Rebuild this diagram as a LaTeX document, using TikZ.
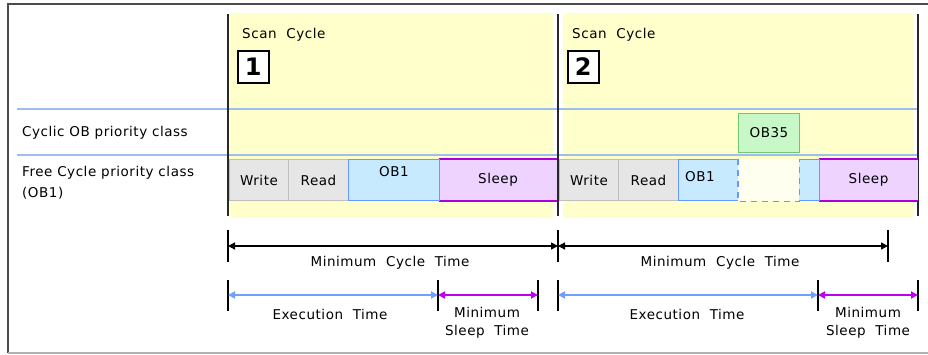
\documentclass[tikz,border=0pt]{standalone}
\usepackage{fontspec}
\newfontfamily\pix[LetterSpace=4]{DejaVu Sans}
\usetikzlibrary{arrows.meta}
\definecolor{panel}{RGB}{255,255,204}
\definecolor{rowline}{RGB}{160,190,235}
\definecolor{vline}{RGB}{40,40,40}
\definecolor{grayfill}{RGB}{230,230,230}
\definecolor{graydraw}{RGB}{190,190,190}
\definecolor{obfill}{RGB}{200,234,255}
\definecolor{obdraw}{RGB}{102,153,255}
\definecolor{slfill}{RGB}{238,210,255}
\definecolor{sldraw}{RGB}{170,0,221}
\definecolor{gapfill}{RGB}{255,255,240}
\definecolor{grfill}{RGB}{200,248,200}
\definecolor{grdraw}{RGB}{110,200,110}
\definecolor{execcol}{RGB}{110,160,255}
\definecolor{sleepcol}{RGB}{190,0,240}
\begin{document}
\begin{tikzpicture}[x=1pt,y=-1pt,
  txt/.style={font=\pix\fontsize{13.5}{15}\selectfont, inner sep=0pt, text=black},
  blk/.style={txt, anchor=north west, minimum height=41pt, line width=1pt},
  graybox/.style={blk, fill=grayfill, draw=graydraw},
  obbox/.style={blk, fill=obfill, draw=obdraw},
  sleepbox/.style={blk, fill=slfill},
  numbox/.style={anchor=north west, minimum width=31pt, minimum height=32pt, inner sep=0pt,
     fill=white, draw=black, line width=1.6pt, font=\pix\fontsize{24}{24}\selectfont\bfseries},
  vrule/.style={draw=vline, line width=2pt},
  tick/.style={draw=black, line width=1.5pt},
  dimblack/.style={draw=black, line width=1.4pt, {Triangle[length=7pt,width=7pt]}-{Triangle[length=7pt,width=7pt]}},
  dimexec/.style={draw=execcol, line width=1.8pt, {Triangle[length=7pt,width=7pt]}-{Triangle[length=7pt,width=7pt]}},
  dimsleep/.style={draw=sleepcol, line width=1.8pt, {Triangle[length=7pt,width=7pt]}-{Triangle[length=7pt,width=7pt]}},
]
\useasboundingbox (0,0) rectangle (928,355);
% frame
\draw[draw=black!70, line width=2pt] (8,353) -- (8,4) -- (928,4);
\draw[draw=black!30, line width=1.2pt] (8,353) -- (928,353);
% yellow panels
\fill[panel, rounded corners=2pt] (230,13) rectangle (553,218);
\fill[panel, rounded corners=2pt] (563,13) rectangle (913,218);
% row separators
\draw[rowline, line width=1.5pt] (17,109) -- (918,109);
\draw[rowline, line width=1.5pt] (17,155) -- (918,155);
% cycle boundaries
\draw[vrule] (228,14) -- (228,216);
\draw[vrule] (558,14) -- (558,216);
\draw[vrule] (918,14) -- (918,216);
% headings
\node[txt, anchor=base west] (sc1) at (242,39) {Scan\ \ Cycle};
\node[numbox] (n1) at (237,50) {1};
\node[txt, anchor=base west] (sc2) at (572,39) {Scan\ \ Cycle};
\node[numbox] (n2) at (567,50) {2};
% row labels
\node[txt, anchor=base west] (lcyc) at (22,137) {Cyclic OB priority class};
\node[txt, anchor=base west] (lfree) at (22,177) {Free Cycle priority class};
\node[txt, anchor=base west] (lob1) at (22,198) {(OB1)};
% cycle 1 blocks
\node[sleepbox, minimum width=117pt] (s1) at (439,159) {Sleep};
\draw[sldraw, line width=1.2pt] (s1.north west) -- (s1.north east) (s1.south west) -- (s1.south east);
\node[graybox, minimum width=59pt] (w1) at (229,159) {Write};
\node[graybox, minimum width=60pt] (r1) at (288,159) {Read};
\node[obbox, minimum width=91pt] (o1) at (348,159) {};
\node[txt, anchor=base] (o1t) at ([yshift=-18pt]o1.north) {OB1};
% cycle 2 blocks
\node[sleepbox, minimum width=98pt] (s2) at (819,159) {Sleep};
\draw[sldraw, line width=1.2pt] (s2.north west) -- (s2.north east) (s2.south west) -- (s2.south east);
\node[graybox, minimum width=59pt] (w2) at (559,159) {Write};
\node[graybox, minimum width=60pt] (r2) at (618,159) {Read};
\node[obbox, minimum width=141pt] (o2) at (678,159) {};
\node[txt, anchor=west] (o2t) at (685,177) {OB1};
\node[blk, minimum width=60pt, fill=gapfill, draw=gapfill, line width=1.4pt] (gap) at (738,159) {};
\draw[obdraw, line width=1.2pt, dash pattern=on 6pt off 5pt] (gap.north west) -- (gap.south west) -- (gap.south east) -- (gap.north east);
\node[blk, minimum width=61pt, minimum height=39pt, fill=grfill, draw=grdraw] (ob35) at (738,113) {OB35};
% dimension coordinates
\coordinate (a0) at (228,246);
\coordinate (a1) at (558,246);
\coordinate (a2) at (888,246);
\coordinate (b0) at (228,295);
\coordinate (b1) at (438,295);
\coordinate (b2) at (538,295);
\coordinate (c0) at (558,295);
\coordinate (c1) at (818,295);
\coordinate (c2) at (918,295);
\foreach \p in {a0,a1,a2}{\draw[tick] ([yshift=16pt]\p) -- ([yshift=-16pt]\p);}
\foreach \p in {b0,b1,b2,c0,c1,c2}{\draw[tick] ([yshift=15pt]\p) -- ([yshift=-16pt]\p);}
\draw[dimblack] (a0) -- (a1);
\draw[dimblack] (a1) -- (a2);
\draw[dimexec] (b0) -- (b1);
\draw[dimsleep] (b1) -- (b2);
\draw[dimexec] (c0) -- (c1);
\draw[dimsleep] (c1) -- (c2);
% dimension labels
\node[txt, anchor=base] (m1) at (390,266) {Minimum\ \ Cycle\ \ Time};
\node[txt, anchor=base] (m2) at (720,266) {Minimum\ \ Cycle\ \ Time};
\node[txt, anchor=base] (e1) at (330,319) {Execution\ \ Time};
\node[txt, anchor=base] (e2) at (687,319) {Execution\ \ Time};
\node[txt, anchor=base] (ms1) at (487,317) {Minimum};
\node[txt, anchor=base] (ms1b) at (487,335) {Sleep\ \ Time};
\node[txt, anchor=base] (ms2) at (868,317) {Minimum};
\node[txt, anchor=base] (ms2b) at (868,335) {Sleep\ \ Time};
\end{tikzpicture}
\end{document}
